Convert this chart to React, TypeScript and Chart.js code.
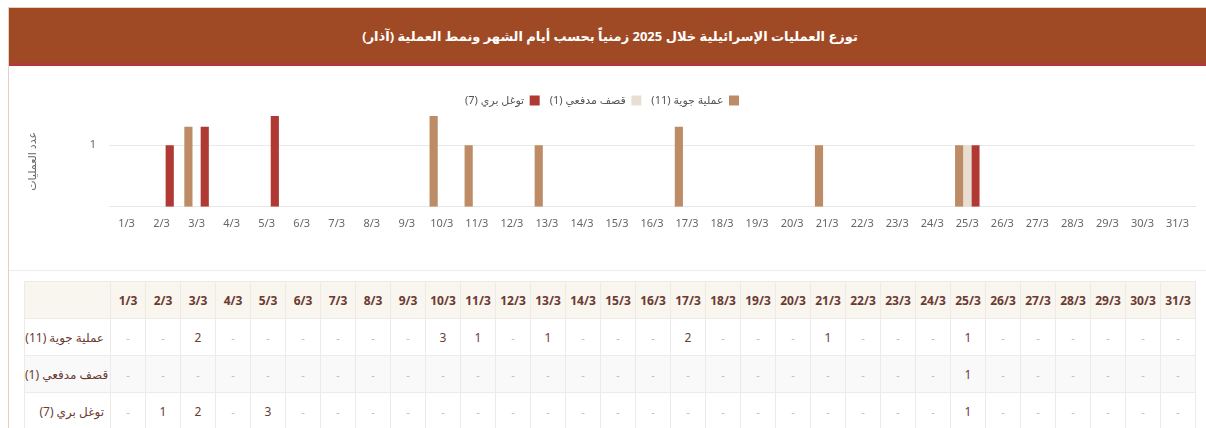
import React, { useEffect, useRef } from "react";
import { Chart, registerables } from "chart.js";

Chart.register(...registerables);

const TITLE = "توزع العمليات الإسرائيلية خلال 2025 زمنياً بحسب أيام الشهر ونمط العملية  (آذار)";
const Y_TITLE = "عدد العمليات";

const days: string[] = [
  "1/3", "2/3", "3/3", "4/3", "5/3", "6/3", "7/3", "8/3", "9/3", "10/3",
  "11/3", "12/3", "13/3", "14/3", "15/3", "16/3", "17/3", "18/3", "19/3", "20/3",
  "21/3", "22/3", "23/3", "24/3", "25/3", "26/3", "27/3", "28/3", "29/3", "30/3", "31/3",
];

const seriesNames: string[] = ["عملية جوية", "قصف مدفعي", "توغل بري"];
const seriesColors: string[] = ["#bd8c66", "#e8ded2", "#b03a33"];

const airStrikes: number[] = [0, 0, 2, 0, 0, 0, 0, 0, 0, 3, 1, 0, 1, 0, 0, 0, 2, 0, 0, 0, 1, 0, 0, 0, 1, 0, 0, 0, 0, 0, 0];
const artillery: number[] = [0, 0, 0, 0, 0, 0, 0, 0, 0, 0, 0, 0, 0, 0, 0, 0, 0, 0, 0, 0, 0, 0, 0, 0, 1, 0, 0, 0, 0, 0, 0];
const incursions: number[] = [0, 1, 2, 0, 3, 0, 0, 0, 0, 0, 0, 0, 0, 0, 0, 0, 0, 0, 0, 0, 0, 0, 0, 0, 1, 0, 0, 0, 0, 0, 0];

const seriesValues: number[][] = [airStrikes, artillery, incursions];

const yTickValues: number[] = [0.1, 1];
const yMin = 0.1;
const yMax = 3;

const FONT = '"Noto Sans", "DejaVu Sans", sans-serif';
const BROWN_TEXT = "#6b3a32";

function labelWithTotal(i: number): string {
  const total = seriesValues[i].reduce((a, b) => a + b, 0);
  return `${seriesNames[i]} (${total})`;
}

function BarChart() {
  const ref = useRef<HTMLCanvasElement | null>(null);
  useEffect(() => {
    if (!ref.current) return;
    const chart = new Chart(ref.current, {
      type: "bar",
      data: {
        labels: days,
        datasets: seriesValues.map((vals, i) => ({
          label: labelWithTotal(i),
          data: vals.map((v) => (v === 0 ? null : v)),
          backgroundColor: seriesColors[i],
          borderWidth: 0,
          barPercentage: 1,
          categoryPercentage: 0.7,
        })),
      },
      options: {
        animation: false,
        responsive: false,
        maintainAspectRatio: false,
        layout: { padding: { top: 19, right: 15, bottom: 30, left: 0 } },
        font: { family: FONT },
        plugins: {
          legend: {
            display: true,
            position: "top",
            rtl: true,
            textDirection: "rtl",
            labels: {
              boxWidth: 10,
              boxHeight: 10,
              color: "#555",
              font: { family: FONT, size: 11 },
              padding: 10,
            },
          },
          tooltip: { enabled: false },
        },
        scales: {
          x: {
            grid: { display: false, drawTicks: false },
            border: { display: true, color: "#e6e6e6" },
            ticks: {
              color: "#666",
              font: { family: FONT, size: 11 },
              padding: 10,
              maxRotation: 0,
              autoSkip: false,
            },
          },
          y: {
            type: "logarithmic",
            min: yMin,
            max: yMax,
            grid: { color: "#e9e9e9", drawTicks: false },
            border: { display: false },
            afterBuildTicks: (scale: any) => {
              scale.ticks = yTickValues.map((v) => ({ value: v }));
            },
            afterFit: (scale: any) => {
              scale.width = 100;
            },
            ticks: {
              color: "#666",
              font: { family: FONT, size: 11 },
              padding: 13,
              callback: (v: any) => (Number(v) === 1 ? "1" : ""),
            },
            title: {
              display: true,
              text: Y_TITLE,
              color: "#666",
              font: { family: FONT, size: 11 },
              padding: { top: 17, bottom: 0 },
            },
          },
        },
      },
    });
    return () => chart.destroy();
  }, []);
  return <canvas ref={ref} width={1201} height={204} style={{ display: "block", width: 1201, height: 204 }} />;
}

function DataTable() {
  const cellBorder = "1px solid #eeeae6";
  return (
    <table
      style={{
        borderCollapse: "collapse",
        tableLayout: "fixed",
        width: 1171,
        fontFamily: FONT,
        fontSize: 12,
      }}
    >
      <colgroup>
        <col style={{ width: 86 }} />
        {days.map((d) => (
          <col key={d} style={{ width: 35 }} />
        ))}
      </colgroup>
      <thead>
        <tr style={{ height: 37, background: "#f9f5ef" }}>
          <th style={{ border: cellBorder }} />
          {days.map((d) => (
            <th key={d} style={{ border: cellBorder, color: BROWN_TEXT, fontWeight: "bold", padding: 0, textAlign: "center" }}>
              {d}
            </th>
          ))}
        </tr>
      </thead>
      <tbody>
        {seriesValues.map((vals, i) => (
          <tr key={i} style={{ height: 37, background: i === 1 ? "#f9f9f9" : "#fff" }}>
            <td
              style={{
                border: cellBorder,
                color: BROWN_TEXT,
                textAlign: "right",
                paddingRight: 6,
                paddingLeft: 0,
                whiteSpace: "nowrap",
                overflow: "hidden",
              }}
            >
              <span dir="rtl">{labelWithTotal(i)}</span>
            </td>
            {vals.map((v, j) => (
              <td
                key={j}
                style={{
                  border: cellBorder,
                  textAlign: "center",
                  padding: 0,
                  color: v === 0 ? "#bbb" : BROWN_TEXT,
                  fontSize: v === 0 ? 11 : 12,
                }}
              >
                {v === 0 ? "-" : v}
              </td>
            ))}
          </tr>
        ))}
      </tbody>
    </table>
  );
}

export default function App() {
  return (
    <div
      style={{
        position: "absolute",
        left: 8,
        top: 7,
        width: 1202,
        border: "1px solid #e8cfc4",
        borderBottom: "none",
        background: "#fff",
        fontFamily: FONT,
        height: 440,
        overflow: "hidden",
      }}
    >
      <div
        dir="rtl"
        style={{
          height: 55,
          background: "#a04a25",
          borderBottom: "3px solid #b5373a",
          color: "#fff",
          display: "flex",
          alignItems: "center",
          justifyContent: "center",
          fontWeight: "bold",
          fontSize: 13,
        }}
      >
        {TITLE}
      </div>
      <div style={{ height: 204, borderBottom: "1px solid #ececec" }}>
        <BarChart />
      </div>
      <div style={{ padding: "10px 15px 0" }}>
        <DataTable />
      </div>
    </div>
  );
}
